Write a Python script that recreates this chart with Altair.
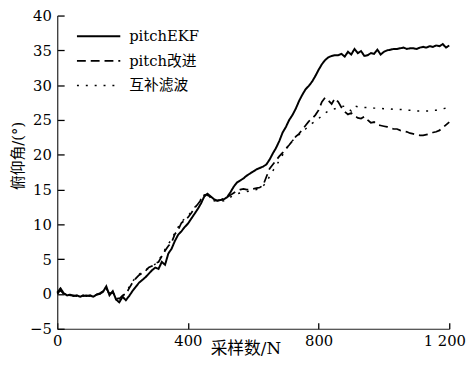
import altair as alt
import pandas as pd

samples = list(range(0, 1201, 10))

series_names = ["pitchEKF", "pitch改进", "互补滤波"]

ekf = [
    0.2, 0.8, 0.1, -0.2, -0.1, -0.3, -0.2, -0.4, -0.2, -0.3,
    -0.2, -0.4, -0.1, 0.0, 0.3, 1.1, -0.2, 0.4, -0.8, -1.2,
    -0.4, -0.9, -0.3, 0.4, 1.0, 1.6, 2.0, 2.4, 2.9, 3.4,
    3.8, 3.6, 4.6, 4.2, 5.8, 6.5, 7.6, 8.5, 9.0, 9.6,
    10.1, 10.8, 11.5, 12.2, 13.0, 14.0, 14.4, 14.0, 13.6, 13.4,
    13.5, 13.6, 13.9, 14.6, 15.4, 16.0, 16.3, 16.6, 17.0, 17.3,
    17.6, 17.9, 18.1, 18.3, 18.6, 19.3, 20.2, 21.0, 22.0, 23.2,
    24.0, 25.0, 25.7, 26.6, 27.7, 28.6, 29.4, 29.9, 30.5, 31.3,
    32.2, 33.0, 33.6, 34.0, 34.2, 34.3, 34.3, 34.5, 34.1, 34.8,
    34.4, 35.2, 34.6, 34.9, 34.2, 34.3, 34.6, 34.5, 35.1, 34.4,
    34.8, 35.0, 35.1, 35.2, 35.2, 35.3, 35.4, 35.2, 35.3, 35.3,
    35.2, 35.4, 35.5, 35.4, 35.6, 35.5, 35.7, 35.6, 35.9, 35.4,
    35.7,
]

improved = [
    0.1, 0.5, 0.0, -0.1, -0.2, -0.2, -0.3, -0.2, -0.3, -0.2,
    -0.3, -0.2, -0.1, 0.1, 0.4, 0.6, 0.1, 0.2, -0.5, -0.7,
    -0.2, 0.0, 0.8, 1.6, 2.2, 2.7, 3.0, 3.3, 3.8, 4.0,
    4.4, 4.6, 5.4, 6.2, 6.9, 7.4, 8.6, 9.2, 10.2, 10.6,
    11.0, 11.6, 12.3, 12.9, 13.5, 14.2, 14.3, 13.8, 13.5, 13.4,
    13.5, 13.7, 13.9, 14.2, 14.5, 14.8, 15.0, 15.1, 15.0, 15.0,
    15.1, 15.2, 15.3, 15.6, 16.8, 18.0, 18.6, 19.2, 19.8, 20.3,
    20.9, 21.4, 22.0, 22.6, 23.0, 23.6, 24.2, 24.8, 25.2, 25.7,
    26.4, 27.6, 28.2, 27.8, 27.3, 28.1, 27.6, 26.8, 26.2, 25.8,
    26.0, 25.6, 25.3, 25.2, 25.5, 25.0, 24.6, 24.7, 24.3, 24.2,
    24.1, 24.0, 23.8, 23.7, 23.7, 23.5, 23.4, 23.3, 23.1, 23.0,
    22.9, 22.8, 22.8, 22.9, 23.0, 23.2, 23.3, 23.5, 23.9, 24.3,
    24.7,
]

complementary = [
    0.0, 0.4, 0.0, -0.1, -0.2, -0.3, -0.2, -0.3, -0.2, -0.3,
    -0.2, -0.3, -0.1, 0.0, 0.3, 0.7, 0.0, 0.3, -0.6, -0.8,
    -0.3, 0.2, 1.0, 1.8, 2.3, 2.8, 3.2, 3.5, 3.7, 4.0,
    4.3, 4.8, 5.6, 6.4, 7.2, 7.8, 8.8, 9.6, 10.4, 10.8,
    11.2, 11.8, 12.4, 13.0, 13.6, 14.1, 14.2, 13.7, 13.4, 13.3,
    13.3, 13.4, 13.6, 13.9, 14.2, 14.4, 14.5, 14.6, 14.7, 14.8,
    14.9, 15.0, 15.2, 15.5, 16.0, 16.9, 17.7, 18.4, 19.2, 20.0,
    20.8, 21.4, 22.0, 22.5, 22.9, 23.3, 23.7, 24.1, 24.5, 24.8,
    25.2, 25.6, 26.0, 26.3, 26.5, 26.6, 26.8, 26.9, 27.0, 26.6,
    26.3, 27.0, 26.9, 26.9, 26.8, 26.8, 26.8, 26.7, 26.7, 26.7,
    26.6, 26.6, 26.6, 26.5, 26.5, 26.5, 26.5, 26.4, 26.4, 26.4,
    26.3, 26.3, 26.3, 26.3, 26.3, 26.4, 26.4, 26.5, 26.6, 26.7,
    26.8,
]

x_ticks = [0, 400, 800, 1200]
y_ticks = [-5, 0, 5, 10, 15, 20, 25, 30, 35, 40]

rows = []
for name, vals in zip(series_names, [ekf, improved, complementary]):
    for n, v in zip(samples, vals):
        rows.append({"n": n, "v": v, "s": name})
df = pd.DataFrame(rows)

FONT = "DejaVu Serif, Noto Sans CJK SC"
W, H = 398, 318

x_scale = alt.Scale(domain=[0, 1200], nice=False)
y_scale = alt.Scale(domain=[-5, 40], nice=False, zero=False)

chart = alt.Chart(df).mark_line(color="black").encode(
    x=alt.X("n:Q", scale=x_scale,
            axis=alt.Axis(values=x_ticks, ticks=True, tickSize=alt.ExprRef("-6"),
                          tickColor="black", tickWidth=1.3, grid=False,
                          labelOverlap=False, labelFlush=False,
                          labelOffset={"condition": {"test": "datum.value == 1200", "value": -5}, "value": 0},
                          labelExpr="replace(format(datum.value, ','), ',', ' ')",
                          labelFont=FONT, labelFontSize=15, labelColor="black",
                          labelPadding=11, domainColor="#222", domainWidth=1.2,
                          title="采样数/N", titleFont=FONT, titleFontSize=17,
                          titleFontWeight="normal", titleColor="black",
                          titleX=191, titleY=20, titleAlign="center",
                          titleBaseline="middle")),
    y=alt.Y("v:Q", scale=y_scale,
            axis=alt.Axis(values=y_ticks, ticks=True, tickSize=alt.ExprRef("-7"),
                          tickColor="black", tickWidth=1.3, grid=False,
                          labelOverlap=False, labelFlush=False,
                          labelFont=FONT, labelFontSize=15, labelColor="black",
                          labelPadding=13, domainColor="#222", domainWidth=1.2,
                          title="俯仰角/(°)", titleFont=FONT, titleFontSize=15,
                          titleFontWeight="normal", titleColor="black",
                          titleX=-40, titleY=142, titleAlign="center",
                          titleBaseline="middle")),
    strokeDash=alt.StrokeDash(
        "s:N",
        scale=alt.Scale(domain=series_names, range=[[1, 0], [9, 5], [2, 7]]),
        legend=alt.Legend(orient="none", legendX=19, legendY=13, title=None,
                          symbolType="stroke", symbolSize=1936,
                          symbolStrokeColor="black", symbolStrokeWidth=1.6,
                          labelFont=FONT, labelFontSize=15, labelColor="black",
                          labelOffset=8, rowPadding=9, padding=0,
                          clipHeight=16, symbolOffset=0),
    ),
    strokeWidth=alt.StrokeWidth(
        "s:N",
        scale=alt.Scale(domain=series_names, range=[2.0, 1.5, 1.8]),
        legend=None,
    ),
    detail="s:N",
).properties(
    width=W,
    height=H,
    padding={"left": 50, "top": 5, "right": 17, "bottom": 27},
    autosize=alt.AutoSizeParams(type="none"),
    background="white",
).configure_view(stroke=None)

chart.save("out.html", embed_options={"renderer": "svg", "actions": False})
